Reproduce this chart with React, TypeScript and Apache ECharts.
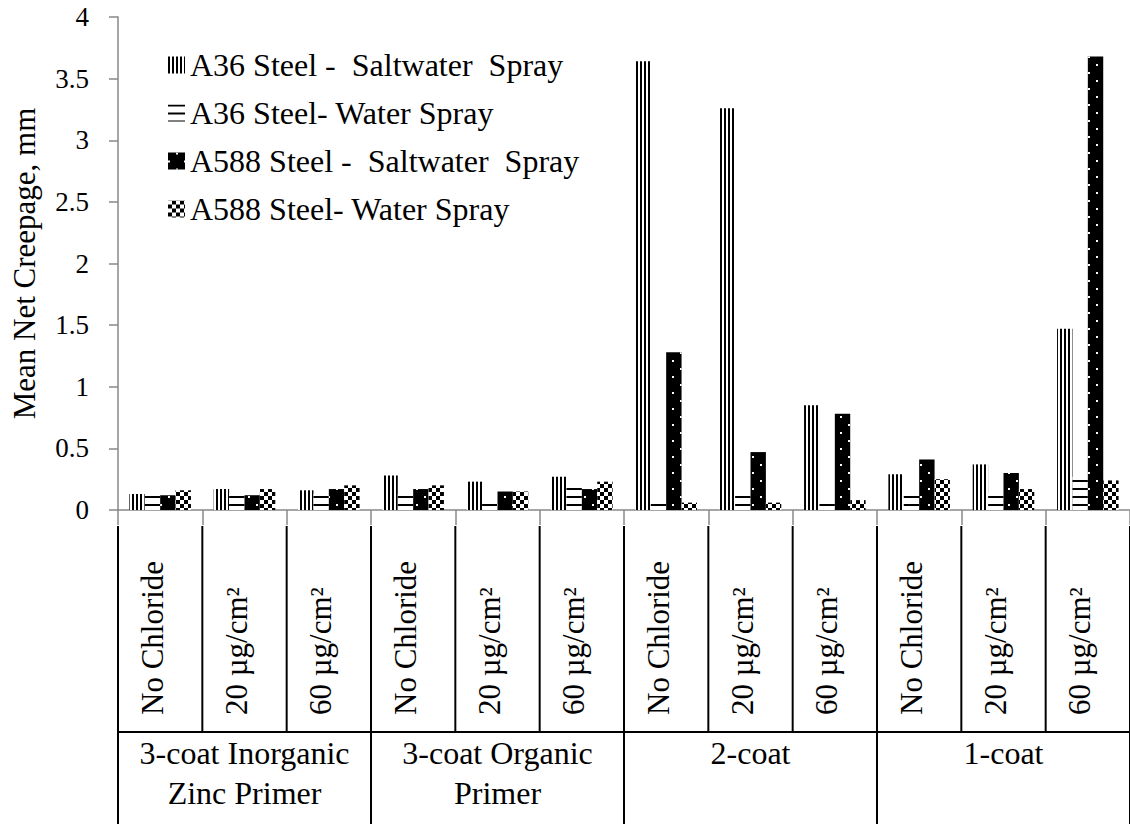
import React, { useEffect, useRef } from 'react';
import * as echarts from 'echarts';

const subCategories = [
  'No Chloride', '20 µg/cm²', '60 µg/cm²',
  'No Chloride', '20 µg/cm²', '60 µg/cm²',
  'No Chloride', '20 µg/cm²', '60 µg/cm²',
  'No Chloride', '20 µg/cm²', '60 µg/cm²',
];
const groupLabels = ['3-coat Inorganic\nZinc Primer', '3-coat Organic\nPrimer', '2-coat', '1-coat'];
const seriesNames = [
  'A36 Steel -\u00a0\u00a0Saltwater\u00a0\u00a0Spray',
  'A36 Steel- Water Spray',
  'A588 Steel -\u00a0\u00a0Saltwater\u00a0\u00a0Spray',
  'A588 Steel- Water Spray',
];
const a36Salt = [0.13, 0.17, 0.16, 0.28, 0.23, 0.27, 3.64, 3.26, 0.85, 0.29, 0.37, 1.47];
const a36Water = [0.14, 0.13, 0.13, 0.13, 0.08, 0.21, 0.08, 0.14, 0.08, 0.14, 0.14, 0.27];
const a588Salt = [0.12, 0.12, 0.17, 0.17, 0.15, 0.17, 1.28, 0.47, 0.78, 0.41, 0.30, 3.68];
const a588Water = [0.16, 0.17, 0.20, 0.20, 0.15, 0.23, 0.06, 0.06, 0.08, 0.25, 0.17, 0.24];

const FONT = 'Times New Roman';

export default function App() {
  const ref = useRef<HTMLDivElement>(null);
  useEffect(() => {
    const chart = echarts.init(ref.current!, null, { renderer: 'svg' });
    const patterns = [
      { color: '#fff', decal: { symbol: 'rect', symbolSize: 1, color: '#000', dashArrayX: [2, 2], dashArrayY: [4, 0] } },
      { color: '#fff', decal: { symbol: 'rect', symbolSize: 1, color: '#000', dashArrayX: [4, 0], dashArrayY: [2, 6] } },
      { color: '#000', decal: { symbol: 'rect', symbolSize: 1, color: '#fff', dashArrayX: [[2, 14], [0, 8, 2, 6]], dashArrayY: [2, 6] } },
      { color: '#fff', decal: { symbol: 'rect', symbolSize: 1, color: '#000', dashArrayX: [[4, 4], [0, 4, 4, 0]], dashArrayY: [4, 0] } },
    ];
    const datasets = [a36Salt, a36Water, a588Salt, a588Water];
    chart.setOption({
      animation: false,
      backgroundColor: '#fff',
      textStyle: { fontFamily: FONT },
      grid: { left: 118, right: -1, top: 17, bottom: 314, containLabel: false },
      legend: {
        orient: 'vertical',
        left: 163,
        top: 44,
        itemWidth: 17,
        itemHeight: 17,
        itemGap: 16,
        icon: 'rect',
        textStyle: { fontFamily: FONT, fontSize: 32, color: '#000', lineHeight: 32 },
        data: seriesNames,
      },
      xAxis: {
        type: 'category',
        data: subCategories,
        axisLine: { lineStyle: { color: '#888', width: 1.5 } },
        axisTick: { show: true, length: 15, lineStyle: { color: '#888', width: 1.5 } },
        axisLabel: {
          interval: 0,
          rotate: 90,
          align: 'left',
          verticalAlign: 'bottom',
          lineHeight: 16,
          margin: 205,
          fontFamily: FONT,
          fontSize: 31,
          color: '#000',
        },
      },
      yAxis: {
        type: 'value',
        min: 0,
        max: 4,
        interval: 0.5,
        name: 'Mean Net Creepage, mm',
        nameLocation: 'middle',
        nameGap: 78,
        nameTextStyle: { fontFamily: FONT, fontSize: 31, color: '#000' },
        splitLine: { show: false },
        axisLine: { show: true, lineStyle: { color: '#888', width: 1.5 } },
        axisTick: { show: true, length: 9, lineStyle: { color: '#888', width: 1.5 } },
        axisLabel: { fontFamily: FONT, fontSize: 27, color: '#000', margin: 29 },
      },
      series: seriesNames.map((name, i) => ({
        name,
        type: 'bar',
        data: datasets[i],
        barGap: '0%',
        barCategoryGap: '27%',
        itemStyle: { color: patterns[i].color, decal: patterns[i].decal },
      })),
    });

    const xAt = (i: number) => chart.convertToPixel({ xAxisIndex: 0 }, i) as number;
    const band = xAt(1) - xAt(0);
    const y0 = chart.convertToPixel({ yAxisIndex: 0 }, 0) as number;
    const midY = 732;
    const bottomY = 824;
    const graphics: any[] = [];
    const lineStyle = { stroke: '#000', lineWidth: 2 };
    for (let i = 0; i <= subCategories.length; i++) {
      const x = xAt(0) - band / 2 + i * band;
      const isGroup = i % 3 === 0;
      graphics.push({
        type: 'line',
        shape: { x1: x, y1: y0 + 16, x2: x, y2: isGroup ? bottomY : midY },
        style: lineStyle,
      });
    }
    graphics.push({
      type: 'line',
      shape: { x1: xAt(0) - band / 2, y1: midY, x2: xAt(11) + band / 2, y2: midY },
      style: lineStyle,
    });
    groupLabels.forEach((g, gi) => {
      const cx = (xAt(gi * 3) + xAt(gi * 3 + 2)) / 2;
      graphics.push({
        type: 'text',
        x: cx,
        y: midY + 1,
        style: {
          text: g,
          fontFamily: FONT,
          fontSize: 32,
          lineHeight: 40,
          fill: '#000',
          align: 'center',
          verticalAlign: 'top',
        },
      });
    });
    chart.setOption({ graphic: graphics });
    return () => chart.dispose();
  }, []);
  return (
    <div
      ref={ref}
      style={{ position: 'fixed', left: 0, top: 0, width: 1130, height: 824, background: '#fff' }}
    />
  );
}
